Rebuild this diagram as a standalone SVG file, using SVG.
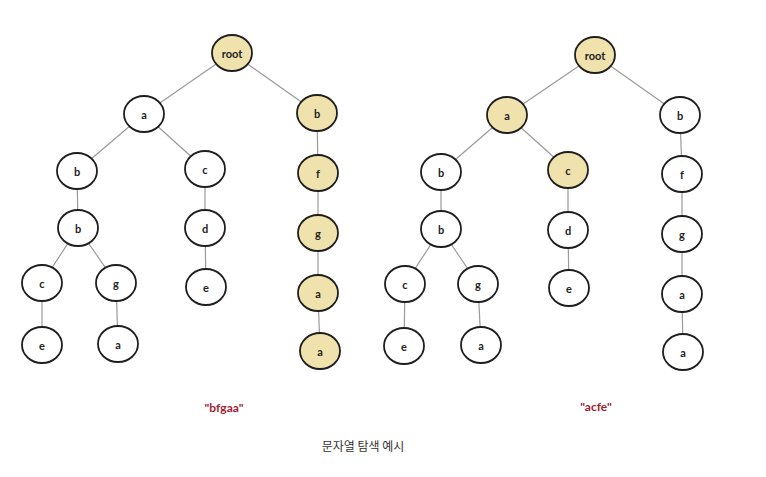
<svg xmlns="http://www.w3.org/2000/svg" width="766" height="477" viewBox="0 0 766 477">
<style>
.e{stroke:#9a9a9a;stroke-width:1.2;fill:none}
.n ellipse{fill:#fff;stroke:#1e1e1e;stroke-width:1.8}
.n.h ellipse{fill:#efe2ad}
.n text{font-family:Lato,"Open Sans",sans-serif;font-weight:bold;font-size:11px;fill:#222;text-anchor:middle;dominant-baseline:central}
.q{font-family:Lato,"Open Sans",sans-serif;font-weight:bold;font-size:12px;fill:#a31c32;text-anchor:middle}
.cap{font-family:"Noto Sans CJK KR",sans-serif;font-size:12px;fill:#333;text-anchor:middle}
</style>
<rect width="766" height="477" fill="#fff"/>
<g id="connectors">
<line class="e" x1="232" y1="53" x2="144" y2="114"/>
<line class="e" x1="232" y1="53" x2="317" y2="113"/>
<line class="e" x1="144" y1="114" x2="77" y2="171"/>
<line class="e" x1="144" y1="114" x2="205" y2="169"/>
<line class="e" x1="77" y1="171" x2="78" y2="228"/>
<line class="e" x1="205" y1="169" x2="205" y2="228"/>
<line class="e" x1="205" y1="228" x2="206" y2="287"/>
<line class="e" x1="78" y1="228" x2="42" y2="283"/>
<line class="e" x1="78" y1="228" x2="116" y2="283"/>
<line class="e" x1="42" y1="283" x2="42" y2="345"/>
<line class="e" x1="116" y1="283" x2="118" y2="344"/>
<line class="e" x1="317" y1="113" x2="318" y2="173"/>
<line class="e" x1="318" y1="173" x2="318" y2="233"/>
<line class="e" x1="318" y1="233" x2="318" y2="293"/>
<line class="e" x1="318" y1="293" x2="320" y2="351"/>
<line class="e" x1="595" y1="55" x2="507" y2="115"/>
<line class="e" x1="595" y1="55" x2="680" y2="115"/>
<line class="e" x1="507" y1="115" x2="441" y2="172"/>
<line class="e" x1="507" y1="115" x2="568" y2="170"/>
<line class="e" x1="441" y1="172" x2="441" y2="229"/>
<line class="e" x1="568" y1="170" x2="568" y2="230"/>
<line class="e" x1="568" y1="230" x2="569" y2="288"/>
<line class="e" x1="441" y1="229" x2="405" y2="284"/>
<line class="e" x1="441" y1="229" x2="478" y2="284"/>
<line class="e" x1="405" y1="284" x2="404" y2="346"/>
<line class="e" x1="478" y1="284" x2="481" y2="345"/>
<line class="e" x1="680" y1="115" x2="682" y2="174"/>
<line class="e" x1="682" y1="174" x2="682" y2="234"/>
<line class="e" x1="682" y1="234" x2="682" y2="294"/>
<line class="e" x1="682" y1="294" x2="683" y2="352"/>
</g>
<g id="L-root" class="n h"><ellipse cx="232" cy="53" rx="20" ry="18"/><text x="232" y="53">root</text></g>
<g id="L-a" class="n"><ellipse cx="144" cy="114" rx="20" ry="18"/><text x="144" y="114">a</text></g>
<g id="L-b" class="n h"><ellipse cx="317" cy="113" rx="20" ry="18"/><text x="317" y="113">b</text></g>
<g id="L-ab" class="n"><ellipse cx="77" cy="171" rx="20" ry="18"/><text x="77" y="171">b</text></g>
<g id="L-ac" class="n"><ellipse cx="205" cy="169" rx="20" ry="18"/><text x="205" y="169">c</text></g>
<g id="L-bf" class="n h"><ellipse cx="318" cy="173" rx="20" ry="18"/><text x="318" y="173">f</text></g>
<g id="L-abb" class="n"><ellipse cx="78" cy="228" rx="20" ry="18"/><text x="78" y="228">b</text></g>
<g id="L-acd" class="n"><ellipse cx="205" cy="228" rx="20" ry="18"/><text x="205" y="228">d</text></g>
<g id="L-bfg" class="n h"><ellipse cx="318" cy="233" rx="20" ry="18"/><text x="318" y="233">g</text></g>
<g id="L-abbc" class="n"><ellipse cx="42" cy="283" rx="20" ry="18"/><text x="42" y="283">c</text></g>
<g id="L-abbg" class="n"><ellipse cx="116" cy="283" rx="20" ry="18"/><text x="116" y="283">g</text></g>
<g id="L-acde" class="n"><ellipse cx="206" cy="287" rx="20" ry="18"/><text x="206" y="287">e</text></g>
<g id="L-bfga" class="n h"><ellipse cx="318" cy="293" rx="20" ry="18"/><text x="318" y="293">a</text></g>
<g id="L-abbce" class="n"><ellipse cx="42" cy="345" rx="20" ry="18"/><text x="42" y="345">e</text></g>
<g id="L-abbga" class="n"><ellipse cx="118" cy="344" rx="20" ry="18"/><text x="118" y="344">a</text></g>
<g id="L-bfgaa" class="n h"><ellipse cx="320" cy="351" rx="20" ry="18"/><text x="320" y="351">a</text></g>

<g id="R-root" class="n h"><ellipse cx="595" cy="55" rx="20" ry="18"/><text x="595" y="55">root</text></g>
<g id="R-a" class="n h"><ellipse cx="507" cy="115" rx="20" ry="18"/><text x="507" y="115">a</text></g>
<g id="R-b" class="n"><ellipse cx="680" cy="115" rx="20" ry="18"/><text x="680" y="115">b</text></g>
<g id="R-ab" class="n"><ellipse cx="441" cy="172" rx="20" ry="18"/><text x="441" y="172">b</text></g>
<g id="R-ac" class="n h"><ellipse cx="568" cy="170" rx="20" ry="18"/><text x="568" y="170">c</text></g>
<g id="R-bf" class="n"><ellipse cx="682" cy="174" rx="20" ry="18"/><text x="682" y="174">f</text></g>
<g id="R-abb" class="n"><ellipse cx="441" cy="229" rx="20" ry="18"/><text x="441" y="229">b</text></g>
<g id="R-acd" class="n"><ellipse cx="568" cy="230" rx="20" ry="18"/><text x="568" y="230">d</text></g>
<g id="R-bfg" class="n"><ellipse cx="682" cy="234" rx="20" ry="18"/><text x="682" y="234">g</text></g>
<g id="R-abbc" class="n"><ellipse cx="405" cy="284" rx="20" ry="18"/><text x="405" y="284">c</text></g>
<g id="R-abbg" class="n"><ellipse cx="478" cy="284" rx="20" ry="18"/><text x="478" y="284">g</text></g>
<g id="R-acde" class="n"><ellipse cx="569" cy="288" rx="20" ry="18"/><text x="569" y="288">e</text></g>
<g id="R-bfga" class="n"><ellipse cx="682" cy="294" rx="20" ry="18"/><text x="682" y="294">a</text></g>
<g id="R-abbce" class="n"><ellipse cx="404" cy="346" rx="20" ry="18"/><text x="404" y="346">e</text></g>
<g id="R-abbga" class="n"><ellipse cx="481" cy="345" rx="20" ry="18"/><text x="481" y="345">a</text></g>
<g id="R-bfgaa" class="n"><ellipse cx="683" cy="352" rx="20" ry="18"/><text x="683" y="352">a</text></g>

<text class="q" x="224" y="412">"bfgaa"</text>
<text class="q" x="596" y="411">"acfe"</text>
<text class="cap" x="363" y="451">문자열 탐색 예시</text>
</svg>
